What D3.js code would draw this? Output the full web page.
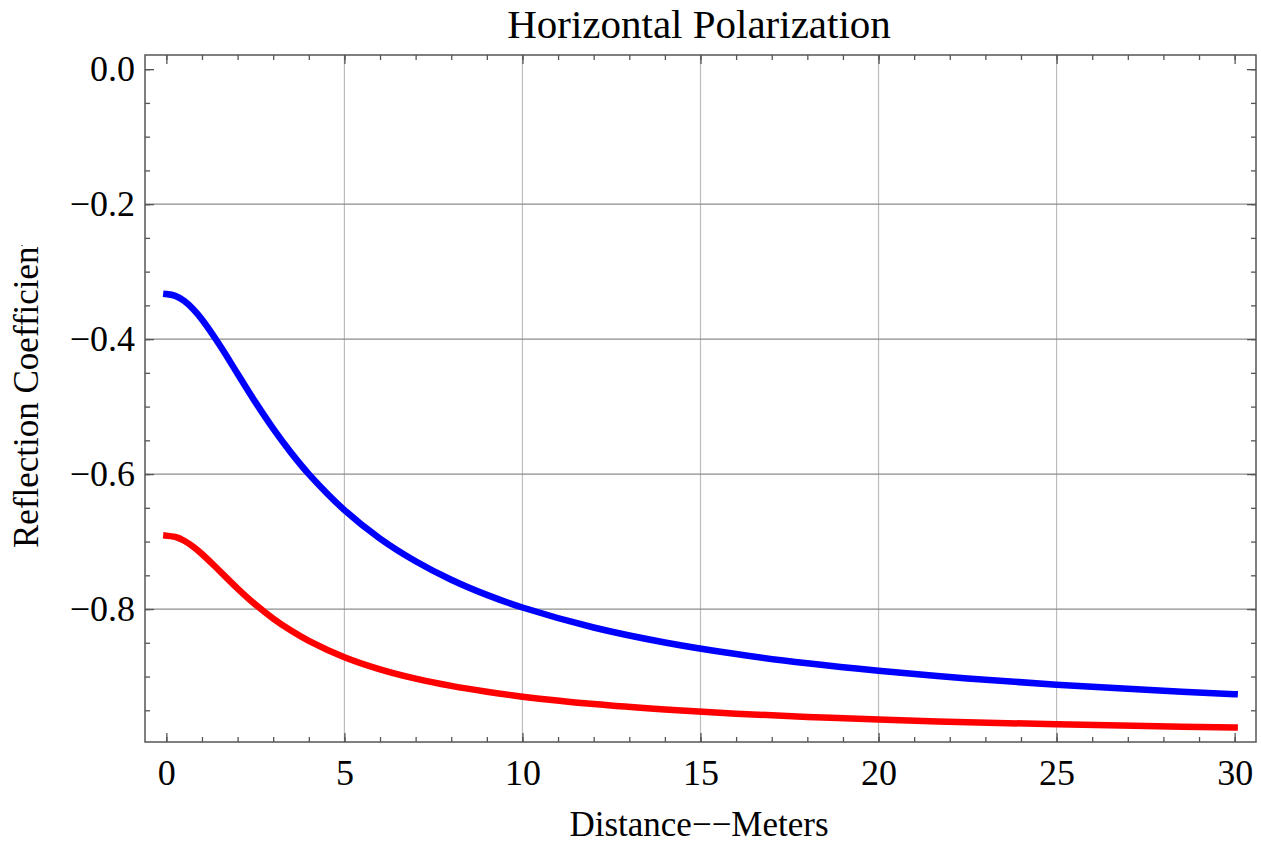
<!DOCTYPE html>
<html>
<head>
<meta charset="utf-8">
<script src="https://cdn.jsdelivr.net/npm/d3@7"></script>
<style>
  html, body { margin: 0; padding: 0; background: #fff; }
  svg { display: block; }
  text { font-family: "Liberation Serif", "Times New Roman", serif; fill: #000; }
</style>
</head>
<body>
<div id="chart"></div>
<script>
// ---- data ----
const distance = [0, 0.25, 0.5, 0.75, 1, 1.5, 2, 2.5, 3, 3.5, 4, 5, 6, 7, 8, 9, 10, 12, 14, 16, 18, 20, 22.5, 25, 27.5, 30];
const blueSeries = [-0.3333, -0.3359, -0.3435, -0.3554, -0.3710, -0.4091, -0.4514, -0.4934, -0.5326, -0.5682, -0.6000, -0.6533,
  -0.6955, -0.7291, -0.7565, -0.7790, -0.7977, -0.8273, -0.8495, -0.8667, -0.8804, -0.8915, -0.9029, -0.9121, -0.9197, -0.9261];
const redSeries = [-0.6912, -0.6932, -0.6988, -0.7075, -0.7184, -0.7438, -0.7696, -0.7933, -0.8141, -0.8319, -0.8471, -0.8713,
  -0.8893, -0.9031, -0.9139, -0.9226, -0.9298, -0.9408, -0.9488, -0.9550, -0.9598, -0.9637, -0.9677, -0.9708, -0.9734, -0.9756];
const xTickValues = [0, 5, 10, 15, 20, 25, 30];
const yTickValues = [0, -0.2, -0.4, -0.6, -0.8];
const yTickLabels = ["0.0", "\u22120.2", "\u22120.4", "\u22120.6", "\u22120.8"];
const xGridValues = [5, 10, 15, 20, 25];
const yGridValues = [-0.2, -0.4, -0.6, -0.8];
const titleText = "Horizontal Polarization";
const xLabelText = "Distance\u2212\u2212Meters";
const yLabelText = "Reflection Coefficient";

// ---- layout ----
const W = 1261, H = 844;
const pLeft = 145, pRight = 1256, pTop = 55, pBottom = 742;

const svg = d3.select("#chart").append("svg").attr("width", W).attr("height", H);

const x = d3.scaleLinear().domain([-0.6, 30.6]).range([pLeft, pRight]);
const y = d3.scaleLinear().domain([-0.997, 0.021]).range([pBottom, pTop]);

// grid lines
svg.append("g").selectAll("line").data(xGridValues).join("line")
  .attr("x1", d => x(d)).attr("x2", d => x(d)).attr("y1", pTop).attr("y2", pBottom)
  .attr("stroke", "#bcbcbc").attr("stroke-width", 1.2);
svg.append("g").selectAll("line").data(yGridValues).join("line")
  .attr("x1", pLeft).attr("x2", pRight).attr("y1", d => y(d)).attr("y2", d => y(d))
  .attr("stroke", "#8c8c8c").attr("stroke-width", 1.2);

// curves
const line = d3.line().x((d, i) => x(distance[i])).y(d => y(d)).curve(d3.curveCatmullRom.alpha(0.5));
svg.append("clipPath").attr("id", "plotclip").append("rect")
  .attr("x", pLeft).attr("y", pTop).attr("width", pRight - pLeft).attr("height", pBottom - pTop);
const curves = svg.append("g").attr("clip-path", "url(#plotclip)");
curves.append("path").datum(redSeries).attr("d", line)
  .attr("fill", "none").attr("stroke", "#ff0000").attr("stroke-width", 6.5).attr("stroke-linecap", "square");
curves.append("path").datum(blueSeries).attr("d", line)
  .attr("fill", "none").attr("stroke", "#0000ff").attr("stroke-width", 6.5).attr("stroke-linecap", "square");

// axes (ticks inward, frame style)
const frameColor = "#555";
const xMinor = d3.range(0, 31, 1);
const yMinor = d3.range(0, -0.99, -0.05).map(v => +v.toFixed(2));

function styleAxis(g) {
  g.select(".domain").remove();
  g.selectAll(".tick line").attr("stroke", frameColor).attr("stroke-width", 1.3);
}

svg.append("g").attr("transform", `translate(0,${pBottom})`)
  .call(d3.axisBottom(x).tickValues(xMinor).tickSize(-5).tickFormat(""))
  .call(styleAxis);
svg.append("g").attr("transform", `translate(0,${pBottom})`)
  .call(d3.axisBottom(x).tickValues(xTickValues).tickSize(-9).tickPadding(17).tickFormat(d3.format("d")))
  .call(styleAxis)
  .call(g => g.selectAll("text").attr("font-size", 36).attr("font-family", "Liberation Serif").attr("fill", "#000"));
svg.append("g").attr("transform", `translate(0,${pTop})`)
  .call(d3.axisTop(x).tickValues(xMinor).tickSize(-5).tickFormat(""))
  .call(styleAxis);
svg.append("g").attr("transform", `translate(0,${pTop})`)
  .call(d3.axisTop(x).tickValues(xTickValues).tickSize(-9).tickFormat(""))
  .call(styleAxis);
svg.append("g").attr("transform", `translate(${pLeft},0)`)
  .call(d3.axisLeft(y).tickValues(yMinor).tickSize(-5).tickFormat(""))
  .call(styleAxis);
svg.append("g").attr("transform", `translate(${pLeft},0)`)
  .call(d3.axisLeft(y).tickValues(yTickValues).tickSize(-9).tickPadding(10)
    .tickFormat((d, i) => yTickLabels[i]))
  .call(styleAxis)
  .call(g => g.selectAll("text").attr("font-size", 36).attr("font-family", "Liberation Serif").attr("fill", "#000"));
svg.append("g").attr("transform", `translate(${pRight},0)`)
  .call(d3.axisRight(y).tickValues(yMinor).tickSize(-5).tickFormat(""))
  .call(styleAxis);
svg.append("g").attr("transform", `translate(${pRight},0)`)
  .call(d3.axisRight(y).tickValues(yTickValues).tickSize(-9).tickFormat(""))
  .call(styleAxis);

// frame
svg.append("rect").attr("x", pLeft).attr("y", pTop).attr("width", pRight - pLeft).attr("height", pBottom - pTop)
  .attr("fill", "none").attr("stroke", frameColor).attr("stroke-width", 1.5);

// title
svg.append("text").attr("x", 699).attr("y", 38).attr("text-anchor", "middle")
  .attr("font-size", 41).text(titleText);

// x label
svg.append("text").attr("x", 699).attr("y", 836).attr("text-anchor", "middle")
  .attr("font-size", 35).text(xLabelText);

// y label (clipped at top as in the reference)
svg.append("clipPath").attr("id", "ylabclip").append("rect")
  .attr("x", 0).attr("y", 245).attr("width", 80).attr("height", 400);
svg.append("g").attr("clip-path", "url(#ylabclip)")
  .append("text").attr("transform", "translate(38,548) rotate(-90)")
  .attr("text-anchor", "start").attr("font-size", 35).text(yLabelText);
</script>
</body>
</html>
